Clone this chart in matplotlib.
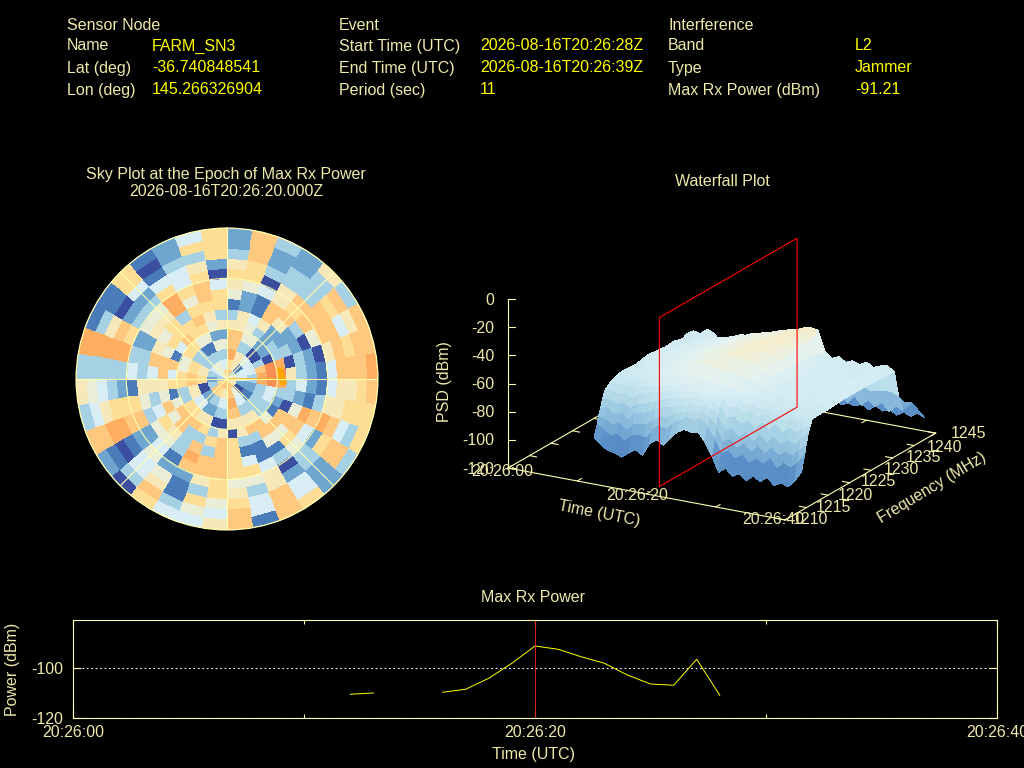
"""Recreate the interference event summary: sky plot, waterfall and max Rx power."""

from __future__ import annotations

import matplotlib

matplotlib.use("Agg")

import matplotlib.pyplot as plt
import numpy as np
from matplotlib.colors import LinearSegmentedColormap, ListedColormap
from mpl_toolkits.mplot3d import proj3d

CREAM = "#eee8aa"
AXIS = "#fffdb0"
YELLOW = "#ffff00"

header_columns = [67, 339, 668]
header_value_x = [152, 480, 855]
header_rows = [24, 45, 67, 89]
header_titles = ["Sensor Node", "Event", "Interference"]
header_labels = [
    ["Name", "Lat (deg)", "Lon (deg)"],
    ["Start Time (UTC)", "End Time (UTC)", "Period (sec)"],
    ["Band", "Type", "Max Rx Power (dBm)"],
]
header_values = [
    ["FARM_SN3", "-36.740848541", "145.266326904"],
    ["2026-08-16T20:26:28Z", "2026-08-16T20:26:39Z", "11"],
    ["L2", "Jammer", "-91.21"],
]

# sky plot: one row per 10 deg azimuth sector (clockwise from north),
# each row from the zenith ring out to the horizon ring
sky_levels = [
    [8, 7, 9, 8, 8, 6, 3, 1, 5, 6, 7, 6, 3, 2, 2],
    [8, 7, 9, 8, 8, 6, 6, 2, 2, 5, 7, 7, 8, 8, 8],
    [8, 6, 6, 3, 5, 5, 4, 1, 1, 4, 0, 3, 2, 2, 3],
    [8, 6, 6, 3, 5, 3, 6, 8, 8, 6, 6, 3, 3, 2, 2],
    [3, 1, 4, 0, 2, 2, 2, 6, 8, 7, 8, 3, 3, 3, 6],
    [3, 1, 4, 0, 2, 3, 2, 2, 3, 8, 8, 8, 7, 8, 3],
    [5, 4, 4, 3, 0, 3, 3, 2, 0, 5, 8, 8, 4, 6, 8],
    [5, 4, 4, 8, 10, 9, 0, 3, 2, 0, 6, 8, 7, 8, 8],
    [6, 4, 3, 9, 10, 10, 6, 3, 2, 1, 4, 8, 8, 8, 9],
    [6, 4, 3, 9, 10, 9, 3, 4, 2, 1, 4, 6, 6, 7, 8],
    [6, 2, 2, 3, 4, 3, 3, 2, 1, 3, 6, 6, 7, 7, 7],
    [6, 2, 2, 3, 4, 2, 0, 5, 9, 8, 9, 8, 4, 3, 7],
    [6, 0, 1, 3, 3, 1, 8, 8, 8, 4, 2, 7, 8, 8, 3],
    [6, 0, 1, 3, 3, 5, 8, 5, 7, 5, 3, 3, 2, 2, 2],
    [8, 5, 4, 3, 6, 8, 8, 5, 1, 3, 0, 2, 4, 4, 7],
    [8, 5, 4, 3, 6, 8, 3, 1, 1, 4, 6, 6, 8, 8, 8],
    [8, 8, 9, 8, 6, 6, 3, 1, 4, 7, 5, 3, 4, 4, 1],
    [8, 8, 9, 8, 6, 0, 7, 7, 7, 7, 5, 6, 7, 8, 8],
    [8, 6, 4, 3, 0, 6, 8, 8, 8, 8, 7, 7, 5, 4, 6],
    [8, 6, 4, 3, 0, 3, 7, 3, 8, 8, 6, 3, 7, 5, 4],
    [8, 7, 3, 2, 6, 7, 3, 8, 9, 8, 2, 1, 1, 3, 4],
    [8, 7, 3, 2, 6, 8, 3, 3, 3, 1, 2, 5, 6, 8, 7],
    [8, 8, 2, 4, 7, 8, 8, 6, 5, 4, 5, 4, 4, 3, 0],
    [8, 8, 2, 4, 7, 8, 5, 7, 5, 2, 2, 1, 0, 1, 2],
    [7, 3, 0, 6, 3, 5, 8, 4, 3, 8, 8, 9, 9, 8, 8],
    [7, 3, 0, 6, 3, 1, 5, 3, 5, 7, 7, 7, 6, 4, 3],
    [3, 2, 7, 8, 7, 7, 6, 6, 6, 1, 2, 3, 4, 5, 6],
    [3, 2, 7, 8, 7, 4, 8, 4, 3, 4, 3, 3, 3, 3, 3],
    [3, 3, 6, 7, 5, 8, 8, 8, 3, 3, 9, 9, 9, 9, 9],
    [3, 3, 6, 7, 5, 1, 5, 6, 2, 2, 7, 8, 6, 3, 1],
    [4, 4, 3, 3, 7, 4, 7, 5, 6, 5, 3, 2, 0, 1, 1],
    [4, 4, 3, 3, 7, 8, 7, 7, 6, 5, 3, 2, 4, 7, 7],
    [5, 5, 3, 1, 5, 7, 7, 3, 9, 9, 7, 4, 1, 0, 1],
    [5, 5, 3, 1, 5, 7, 8, 7, 5, 7, 4, 4, 3, 2, 2],
    [7, 4, 3, 5, 2, 5, 6, 7, 8, 8, 7, 6, 3, 7, 4],
    [7, 4, 3, 5, 2, 6, 3, 7, 7, 4, 0, 2, 7, 7, 7],
]
sky_palette = [
    "#3a4f9f", "#4b7cba", "#6fa6cf", "#a6d1e4", "#d9eef4", "#ebeed6",
    "#f6e8b8", "#fedd95", "#fec97f", "#fdae61", "#f98e52",
]
sky_azimuth_edges = np.arange(0, 370, 10)
sky_zenith_edges = np.arange(0, 96, 6)
jammer_azimuth = [78, 84, 90, 96]
jammer_zenith = [31.5, 32, 33, 34]

# waterfall: seconds after 20:26:00, frequency in MHz, PSD in dBm per frequency row
wf_time = list(range(9, 40))
wf_freq = [1215.5, 1216.2, 1216.6, 1217, 1217.5, 1218, 1218.9, 1220, 1222, 1225, 1228, 1231, 1234, 1236, 1237, 1238, 1239, 1241, 1244]
wf_psd = [
    [-100, -104, -107, -108, -110, -106, -103, -106, -97, -93, -96, -90, -85, -82, -83, -82, -88, -97, -108, -104, -109, -106, -110, -106, -109, -105, -110, -107, -109, -104, -96],
    [-92, -94, -97, -95, -99, -94, -93, -94, -88, -84, -85, -80, -78, -75, -76, -74, -78, -85, -95, -92, -97, -93, -98, -94, -97, -92, -98, -94, -96, -91, -85],
    [-86, -87, -90, -88, -92, -87, -86, -85, -81, -78, -78, -75, -73, -71, -72, -70, -73, -78, -87, -85, -90, -86, -91, -86, -90, -85, -90, -86, -88, -83, -78],
    [-82, -80, -84, -82, -86, -81, -80, -78, -75, -73, -72, -70, -69, -67, -68, -66, -68, -72, -80, -78, -83, -79, -84, -79, -83, -78, -83, -79, -81, -76, -72],
    [-76, -75, -78, -76, -79, -75, -74, -72, -70, -68, -67, -66, -65, -63, -64, -62, -63, -66, -73, -71, -76, -72, -77, -72, -76, -71, -76, -72, -74, -70, -67],
    [-71, -70, -72, -70, -73, -69, -68, -66, -65, -63, -62, -62, -61, -60, -60, -58, -59, -61, -66, -65, -69, -66, -70, -66, -69, -65, -69, -66, -67, -64, -63],
    [-68, -66, -68, -66, -68, -65, -64, -63, -62, -60, -59, -59, -58, -57, -57, -56, -56, -58, -61, -61, -65, -63, -66, -64, -66, -63, -66, -64, -65, -63, -63],
    [-66, -63, -65, -62, -64, -61, -60, -59, -57, -56, -55, -54, -54, -55, -55, -56, -56, -57, -58, -59, -61, -61, -63, -62, -63, -62, -64, -63, -63, -62, -63],
    [-64, -61, -63, -60, -62, -60, -58, -57, -55, -53, -52, -50, -49, -49, -50, -51, -51, -52, -53, -55, -58, -60, -61, -61, -62, -61, -63, -62, -62, -61, -63],
    [-65, -61, -63, -59, -60, -58, -57, -55, -53, -52, -50, -49, -48, -47, -46, -46, -47, -48, -50, -52, -56, -59, -60, -60, -61, -60, -62, -61, -61, -60, -62],
    [-63, -60, -62, -58, -60, -57, -56, -55, -53, -52, -50, -49, -48, -46, -45, -45, -45, -46, -47, -50, -55, -59, -60, -60, -61, -60, -61, -61, -60, -60, -62],
    [-65, -61, -63, -59, -60, -57, -57, -55, -54, -52, -51, -49, -48, -47, -45, -45, -44, -45, -46, -49, -55, -59, -60, -61, -61, -61, -62, -61, -61, -60, -62],
    [-64, -62, -64, -60, -61, -58, -58, -56, -55, -53, -52, -50, -49, -48, -47, -46, -45, -44, -45, -48, -56, -60, -61, -61, -62, -61, -62, -62, -61, -61, -63],
    [-66, -62, -65, -60, -62, -60, -59, -58, -56, -55, -53, -52, -50, -49, -48, -46, -45, -43, -44, -48, -58, -61, -62, -60, -62, -60, -63, -61, -62, -60, -63],
    [-64, -61, -62, -58, -60, -66, -62, -61, -57, -58, -55, -54, -52, -50, -49, -47, -47, -44, -43, -44, -58, -62, -60, -63, -61, -63, -60, -63, -61, -60, -63],
    [-84, -82, -82, -80, -80, -78, -77, -76, -75, -73, -73, -72, -70, -70, -69, -68, -67, -66, -66, -68, -76, -78, -79, -80, -81, -80, -82, -81, -80, -80, -82],
    [-93, -97, -94, -98, -92, -96, -93, -97, -91, -94, -90, -93, -89, -92, -88, -91, -87, -90, -86, -89, -93, -89, -96, -90, -96, -91, -95, -91, -97, -92, -94],
    [-95, -98, -94, -99, -93, -97, -94, -98, -92, -96, -93, -97, -91, -95, -92, -96, -91, -95, -92, -96, -93, -97, -94, -98, -92, -95, -91, -94, -90, -93, -92],
    [-109, -107, -110, -106, -109, -108, -110, -107, -109, -106, -110, -107, -109, -108, -110, -107, -109, -106, -110, -108, -109, -107, -110, -106, -109, -107, -110, -107, -109, -106, -108],
]
# (psd, colour) stops of the waterfall palette
wf_color_psd = [-115, -100, -85, -72, -60, -52, -47, -43]
wf_colors = ["#4a78b5", "#5b90c8", "#8fbfdd", "#b7dcea", "#d6edf4", "#e6f2ee", "#eef0dc", "#f9ebc4"]
wf_time_ticks = [0, 10, 20, 30, 40]
wf_freq_ticks = [1210, 1215, 1220, 1225, 1230, 1235, 1240, 1245]
wf_psd_ticks = [0, -20, -40, -60, -80, -100, -120]
wf_epoch = 20
wf_epoch_freq = [1213, 1245]

# max Rx power trace, seconds after 20:26:00
power_time = [12, 13, 14, 15, 16, 17, 18, 19, 20, 21, 22, 23, 24, 25, 26, 27, 28]
power_dbm = [-110.5, -110.0, np.nan, np.nan, -109.7, -108.5, -104.1, -98.1, -91.21, -92.5, -95.5, -98.1, -102.8, -106.4, -106.9, -96.5, -110.9]

plt.rcParams["font.family"] = ["Liberation Sans", "DejaVu Sans"]
plt.rcParams["font.size"] = 11.5

fig = plt.figure(figsize=(10.24, 7.68), dpi=100, facecolor="black")


def pixel_axes(left, top, right, bottom, **kwargs):
    return fig.add_axes(
        [left / 1024, 1 - bottom / 768, (right - left) / 1024, (bottom - top) / 768], **kwargs
    )


# waterfall
wf = pixel_axes(100, 0, 868, 768, projection="3d", proj_type="ortho", computed_zorder=False)
wf.patch.set_alpha(0)
wf.set_axis_off()
wf.set_xlim(0, 40)
wf.set_ylim(1210, 1245)
wf.set_zlim(-120, 0)
wf.set_box_aspect((319, 304, 179))
wf.view_init(elev=19.2, azim=-60.3)


def project(t, f, z):
    wf.apply_aspect()
    px, py, _ = proj3d.proj_transform(t, f, z, wf.get_proj())
    x, y = wf.transData.transform((px, py))
    return x, 768 - y


# fit the projected floor to the reference: scale first, then shift
side = 768.0
x0, _ = project(0, 1210, -120)
x1, _ = project(40, 1210, -120)
side *= 277 / (x1 - x0)
wf.set_position([100 / 1024, 0, side / 1024, side / 768])
x0, y0 = project(0, 1210, -120)
wf.set_position([(100 + 508 - x0) / 1024, (y0 - 468) / 768, side / 1024, side / 768])

for t0, t1, f0, f1 in [(0, 40, 1210, 1210), (0, 40, 1245, 1245), (0, 0, 1210, 1245), (40, 40, 1210, 1245)]:
    wf.plot([t0, t1], [f0, f1], [-120, -120], color=AXIS, lw=0.8, zorder=1)
wf.plot([0, 0], [1210, 1210], [-120, 0], color=AXIS, lw=0.8, zorder=1)
for t in wf_time_ticks:
    wf.plot([t, t], [1210, 1211], [-120, -120], color=AXIS, lw=0.8, zorder=1)
    wf.plot([t, t], [1245, 1244], [-120, -120], color=AXIS, lw=0.8, zorder=1)
for f in wf_freq_ticks:
    wf.plot([0, 1], [f, f], [-120, -120], color=AXIS, lw=0.8, zorder=1)
    wf.plot([40, 39], [f, f], [-120, -120], color=AXIS, lw=0.8, zorder=1)

T, F = np.meshgrid(wf_time, wf_freq)
stops = [(p - wf_color_psd[0]) / (wf_color_psd[-1] - wf_color_psd[0]) for p in wf_color_psd]
wf.plot_surface(
    T, F, np.array(wf_psd, dtype=float),
    cmap=LinearSegmentedColormap.from_list("wf", list(zip(stops, wf_colors))),
    vmin=wf_color_psd[0], vmax=wf_color_psd[-1],
    rstride=1, cstride=1, linewidth=0, antialiased=False, shade=False, zorder=2,
)
wf.plot(
    [wf_epoch] * 5,
    [wf_epoch_freq[0], wf_epoch_freq[1], wf_epoch_freq[1], wf_epoch_freq[0], wf_epoch_freq[0]],
    [-120, -120, 0, 0, -120],
    color="#ff0000", lw=0.8, zorder=3,
)

# sky plot
sky = pixel_axes(76, 228, 378, 530, projection="polar")
sky.set_facecolor("black")
sky.set_theta_zero_location("N")
sky.set_theta_direction(-1)
sky.pcolormesh(
    np.radians(sky_azimuth_edges), sky_zenith_edges, np.array(sky_levels).T,
    cmap=ListedColormap(sky_palette), vmin=-0.5, vmax=10.5, shading="flat", antialiased=False,
)
sky.plot(np.radians([90, 90]), [0, 33], color="#ffa500", lw=1.1)
sky.plot(np.radians(jammer_azimuth), jammer_zenith, color="#ffa500", lw=5, solid_capstyle="butt")
sky.set_ylim(0, 90)
sky.set_xticks(np.radians(np.arange(0, 360, 45)))
sky.set_xticklabels([])
sky.set_yticks([30, 60, 90])
sky.set_yticklabels([])
sky.tick_params(length=0)
sky.set_axisbelow(False)
sky.grid(True, color=AXIS, lw=0.8)
sky.spines["polar"].set_color(AXIS)
sky.spines["polar"].set_linewidth(0.8)

# max Rx power
power = pixel_axes(73, 620, 997, 718)
power.set_facecolor("black")
power.plot(power_time, power_dbm, color=YELLOW, lw=0.7)
power.axvline(20, color="#e02020", lw=0.7)
power.set_xlim(0, 40)
power.set_ylim(-120, -80.8)
power.set_xticks([0, 20, 40], ["20:26:00", "20:26:20", "20:26:40"])
power.set_xticks([10, 30], minor=True)
power.set_yticks([-100, -120], ["-100", "-120"])
power.tick_params(axis="both", which="major", direction="in", colors=CREAM, color=AXIS, length=6, width=0.8, labelsize=11.5, top=True, right=True)
power.tick_params(axis="x", which="minor", direction="in", color=AXIS, length=3, width=0.8, top=True)
power.tick_params(axis="x", pad=5)
power.tick_params(axis="y", pad=7)
power.grid(True, axis="y", color="white", lw=0.8, ls=(0, (1.5, 2.5)))
for spine in power.spines.values():
    spine.set_color(AXIS)
    spine.set_linewidth(0.8)

# everything placed by reference pixel goes on one overlay
overlay = fig.add_axes([0, 0, 1, 1])
overlay.set_xlim(0, 1024)
overlay.set_ylim(768, 0)
overlay.set_axis_off()
overlay.patch.set_alpha(0)


def label(x, y, text, color=CREAM, ha="center", rotation=0):
    # x, y is the visual middle of the glyphs; anchor on the baseline 5.5 px below it
    angle = np.radians(rotation)
    overlay.text(
        x + 5.5 * np.sin(angle), y + 5.5 * np.cos(angle), text, color=color, ha=ha, va="baseline",
        rotation=rotation, rotation_mode="anchor", fontsize=11.5,
    )


for col, title in enumerate(header_titles):
    label(header_columns[col], header_rows[0], title, ha="left")
    for row in range(3):
        label(header_columns[col], header_rows[row + 1], header_labels[col][row], ha="left")
        label(header_value_x[col], header_rows[row + 1], header_values[col][row], color=YELLOW, ha="left")

label(226, 174, "Sky Plot at the Epoch of Max Rx Power")
label(226, 190, "2026-08-16T20:26:20.000Z")
label(722, 181, "Waterfall Plot")
label(533, 596, "Max Rx Power")
label(533, 754, "Time (UTC)")
label(12, 669, "Power (dBm)", rotation=90)

for z in wf_psd_ticks:
    x, y = project(0, 1210, z)
    overlay.plot([x, x + 7], [y, y], color=AXIS, lw=0.8)
    label(494, y, str(z), ha="right")
label(443, 382, "PSD (dBm)", rotation=90)
for x, y, text in [(502, 471, "20:26:00"), (637, 495, "20:26:20"), (773, 519, "20:26:40")]:
    label(x, y, text)
for f, x, y in zip(wf_freq_ticks, [810, 833, 855, 878, 901, 923, 945, 968], [518, 506, 494, 481, 469, 457, 446, 433]):
    label(x, y, str(f))
label(599, 513, "Time (UTC)", rotation=-11)
label(932, 487, "Frequency (MHz)", rotation=31)

fig.savefig("out.png", dpi=100, facecolor="black")
